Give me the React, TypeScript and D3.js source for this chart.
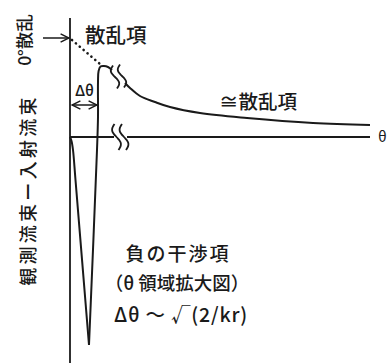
import React from "react";
import * as d3 from "d3";

// Schematic: flux difference (observed − incident) versus scattering angle θ.
// Units: θ in arbitrary steps along the axis, flux in arbitrary units (0 = axis).
const thetaDomain = [0, 300];
const fluxDomain = [-226, 119];

// Negative interference dip (magnified θ region), rising into the forward peak
const dipLeft: [number, number][] = [
  [0, 0], [1.5, -4], [3, -13], [5.5, -43], [19, -208],
];
const dipRight: [number, number][] = [
  [19, -208], [27, -13], [28, 20], [28, 55], [28.6, 66], [30.5, 70.5],
  [34, 71], [38, 70], [42, 67],
];
// Scattering term beyond the axis break
const scatterTail: [number, number][] = [
  [55, 54], [60, 49], [70, 41], [85, 35], [100, 30], [130, 24],
  [177, 19], [243, 14], [300, 12],
];
// Extrapolated zero-angle scattering (dotted)
const zeroAngleGuide: [number, number][] = [[2, 97], [30, 73]];
const zeroArrowLevel = 99;
const deltaThetaSpan: [number, number] = [2, 27];
const deltaArrowLevel = 32;
const axisBreak: [number, number] = [44, 57];
const curveBreakLevel = 59;

const W = 387;
const H = 363;

export default function App() {
  const x = d3.scaleLinear().domain(thetaDomain).range([70, 370]);
  const y = d3.scaleLinear().domain(fluxDomain).range([363, 18]);

  const smooth = d3
    .line<[number, number]>()
    .x((d) => x(d[0]))
    .y((d) => y(d[1]))
    .curve(d3.curveCatmullRom.alpha(0.5));

  // vertical tilde used for the break marks
  const wiggle = (cx: number, cy: number, h: number, a: number, slant: number) => {
    const pts: [number, number][] = d3.range(0, 1.0001, 0.05).map((t) => [
      cx - a * Math.sin(2 * Math.PI * t) + slant * (t - 0.5),
      cy - h / 2 + h * t,
    ]);
    return d3.line().curve(d3.curveBasis)(pts) || "";
  };

  const font = "'Noto Sans CJK JP', 'Noto Sans', sans-serif";
  const ink = "#1a1a1a";
  const y0 = y(0);
  const bx0 = x(axisBreak[0]);
  const bx1 = x(axisBreak[1]);
  const cbY = y(curveBreakLevel);

  return (
    <svg width={W} height={H} style={{ position: "absolute", left: 0, top: 0, background: "#fff" }}>
      <defs>
        <marker id="head" viewBox="0 0 10 10" refX="9" refY="5" markerWidth="7" markerHeight="7" orient="auto-start-reverse">
          <path d="M1,1 L9,5 L1,9" fill="none" stroke={ink} strokeWidth="1.4" />
        </marker>
      </defs>

      {/* axes */}
      <line x1={x(0)} x2={x(0)} y1={y(fluxDomain[1])} y2={y(fluxDomain[0])} stroke={ink} strokeWidth={1.8} />
      <line x1={x(0)} x2={bx0} y1={y0} y2={y0} stroke={ink} strokeWidth={1.8} />
      <line x1={bx1} x2={x(thetaDomain[1])} y1={y0} y2={y0} stroke={ink} strokeWidth={1.8} />
      <path d={wiggle(bx0 + 2.5, y0, 26, 3.4, 4)} fill="none" stroke={ink} strokeWidth={1.8} />
      <path d={wiggle(bx1 - 3, y0, 26, 3.4, 4)} fill="none" stroke={ink} strokeWidth={1.8} />
      <text x={378} y={y0 + 5} fontFamily={font} fontSize={15} fill={ink}>θ</text>

      {/* curve */}
      <path d={smooth(dipLeft) || ""} fill="none" stroke={ink} strokeWidth={2} />
      <path d={smooth(dipRight) || ""} fill="none" stroke={ink} strokeWidth={2} />
      <path d={wiggle(x(dipRight[dipRight.length - 1][0]) + 3, cbY - 1, 23, 3.2, 4)} fill="none" stroke={ink} strokeWidth={1.8} />
      <path d={wiggle(x(scatterTail[0][0]) - 3, cbY - 2, 23, 3.2, 4)} fill="none" stroke={ink} strokeWidth={1.8} />
      <path d={smooth(scatterTail) || ""} fill="none" stroke={ink} strokeWidth={2} />

      {/* zero-angle extrapolation */}
      <line
        x1={x(zeroAngleGuide[0][0])} y1={y(zeroAngleGuide[0][1])}
        x2={x(zeroAngleGuide[1][0])} y2={y(zeroAngleGuide[1][1])}
        stroke={ink} strokeWidth={2.6} strokeDasharray="0.1 5" strokeLinecap="round"
      />
      <line x1={43} x2={x(-1)} y1={y(zeroArrowLevel)} y2={y(zeroArrowLevel)} stroke={ink} strokeWidth={1.5} markerEnd="url(#head)" />

      {/* Δθ width */}
      <line
        x1={x(deltaThetaSpan[0])} x2={x(deltaThetaSpan[1])}
        y1={y(deltaArrowLevel)} y2={y(deltaArrowLevel)}
        stroke={ink} strokeWidth={1.5} markerStart="url(#head)" markerEnd="url(#head)"
      />
      <text x={x(14.5)} y={96} textAnchor="middle" fontFamily={font} fontSize={15} fontWeight={500} fill={ink}>Δθ</text>

      {/* labels */}
      <g fontFamily={font} fontWeight={500} fill={ink}>
        <text x={85} y={43} fontSize={20.5}>散乱項</text>
        <text x={219} y={109} fontSize={19.5}>≅散乱項</text>
        <text transform="translate(31,40) rotate(-90)" textAnchor="middle" fontSize={17.5}>0°散乱</text>
        <text transform="translate(35,190) rotate(-90)" textAnchor="middle" fontSize={18} letterSpacing={3.3}>観測流束ー入射流束</text>

        <text x={178} y={261} textAnchor="middle" fontSize={19} letterSpacing={2}>負の干渉項</text>
        <text x={177} y={290} textAnchor="middle" fontSize={18.5}>（θ 領域拡大図）</text>
        <text x={181} y={322} textAnchor="middle" fontSize={19.5} letterSpacing={0.8}>Δθ ～ √(2/kr)</text>
      </g>
    </svg>
  );
}
